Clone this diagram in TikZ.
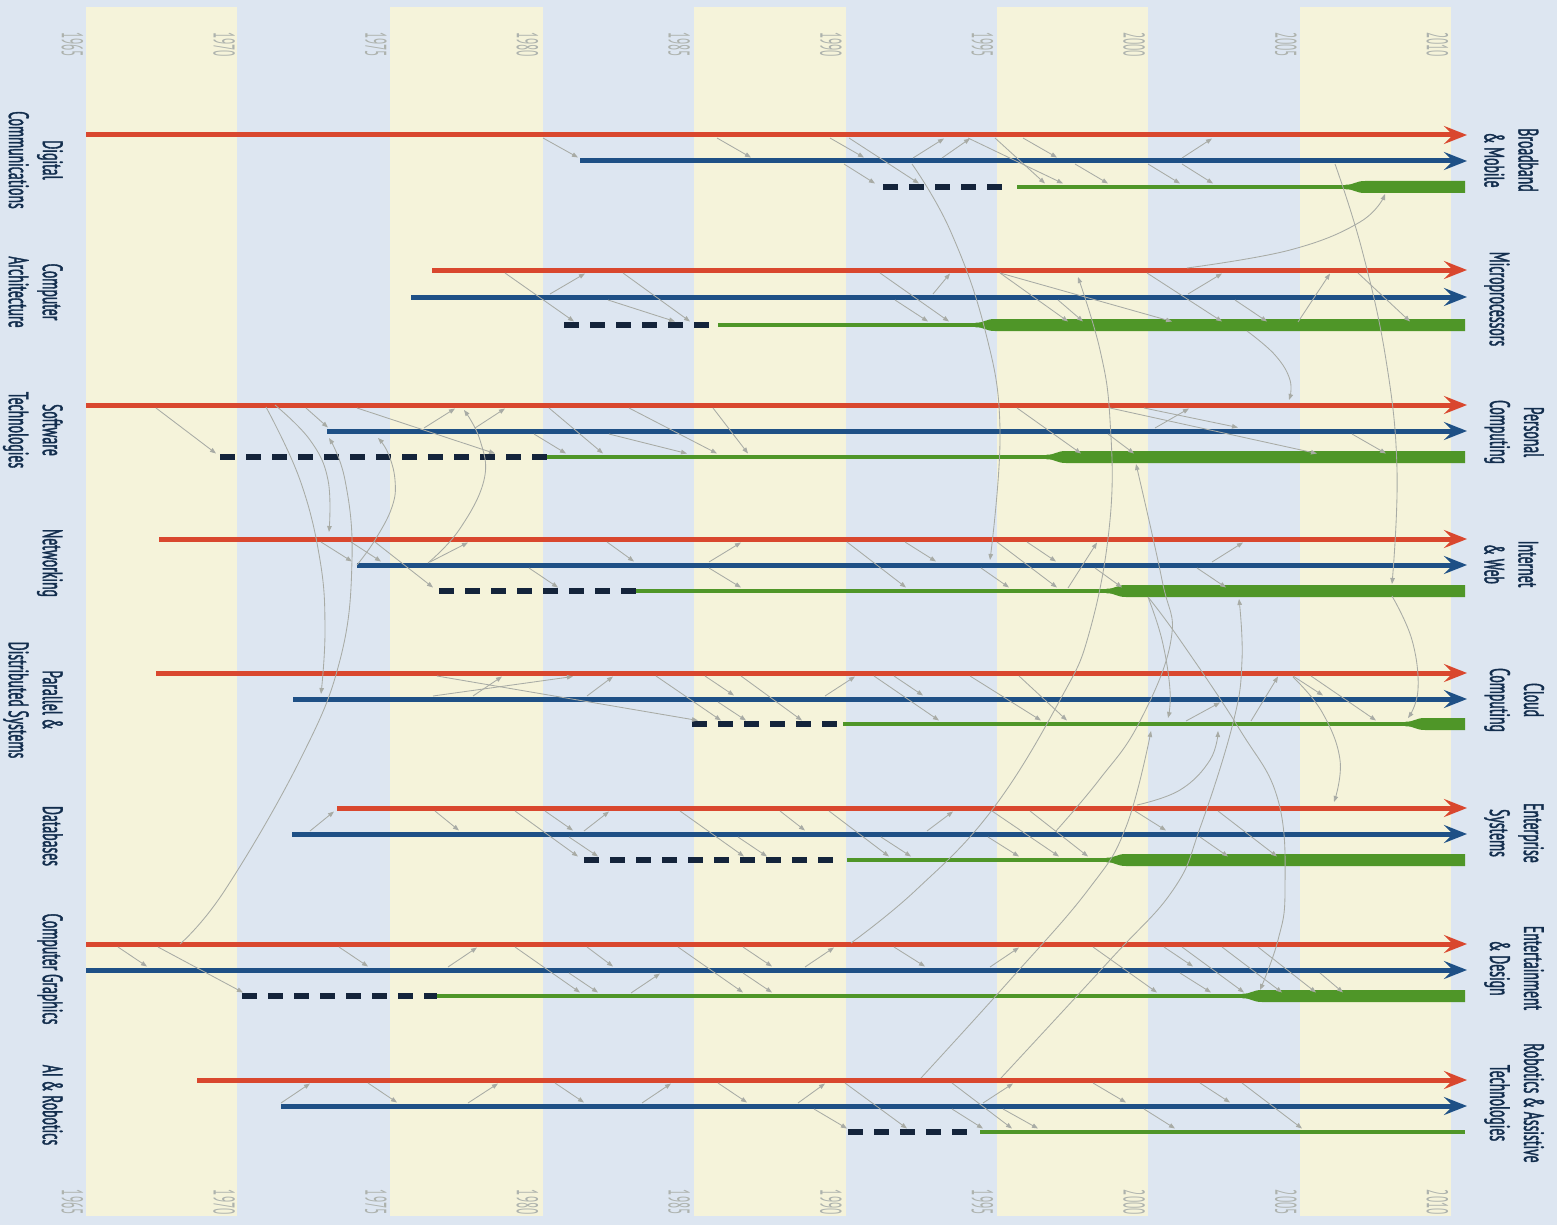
\documentclass[tikz,border=0pt]{standalone}
\usepackage{fontspec}
\newfontfamily\labfont{PT Sans}[FakeStretch=0.49,FakeBold=1.3]
\newfontfamily\yrfont{PT Sans}[FakeStretch=0.38]
\usetikzlibrary{arrows.meta}
\definecolor{bgb}{HTML}{DDE6F1}
\definecolor{crm}{HTML}{F5F3DA}
\definecolor{cred}{HTML}{D9472E}
\definecolor{cblu}{HTML}{1E5086}
\definecolor{cgrn}{HTML}{4F9628}
\definecolor{cdash}{HTML}{14243B}
\definecolor{cgray}{HTML}{A8ABA5}
\definecolor{ctext}{HTML}{132E4E}
\definecolor{cyear}{HTML}{ADB2AD}
\newcommand\setrow[3]{\def\ry{#1}\def\by{#2}\def\gy{#3}}
\newcommand\aRB[2]{\draw[ga] (#1,\ry+3) -- (#2,\by-3.5);}
\newcommand\aRG[2]{\draw[ga] (#1,\ry+3) -- (#2,\gy-3.5);}
\newcommand\aBG[2]{\draw[ga] (#1,\by+3) -- (#2,\gy-3.5);}
\newcommand\aBR[2]{\draw[ga] (#1,\by-3) -- (#2,\ry+3.5);}
\newcommand\aGB[2]{\draw[ga] (#1,\gy-3) -- (#2,\by+3.5);}
\newcommand\aGR[2]{\draw[ga] (#1,\gy-3) -- (#2,\ry+3.5);}
\newcommand\gthick[2]{\fill[cgrn] (#2,#1-2.2) .. controls (#2+10,#1-2.2) and (#2+10,#1-6) .. (#2+20,#1-6) -- (1465,#1-6) -- (1465,#1+6) -- (#2+20,#1+6) .. controls (#2+10,#1+6) and (#2+10,#1+2.2) .. (#2,#1+2.2) -- cycle;}
% #1 red y, #2 blue y, #3 green y, #4 red start, #5 blue start, #6 dash start, #7 dash end, #8 green start
\newcommand\track[8]{%
\draw[redl] (#4,#1) -- (1467,#1);
\draw[blul] (#5,#2) -- (1467,#2);
\draw[dashl] (#6,#3) -- (#7,#3);
\draw[grnl] (#8,#3) -- (1465,#3);}
\tikzset{
  ga/.style={draw=cgray, line width=0.85pt, -{Triangle[length=6pt,width=4.5pt]}},
  redl/.style={draw=cred, line width=5pt, -{Stealth[length=23pt,width=18pt,inset=9pt]}},
  blul/.style={draw=cblu, line width=5pt, -{Stealth[length=23pt,width=18pt,inset=9pt]}},
  grnl/.style={draw=cgrn, line width=4.4pt},
  dashl/.style={draw=cdash, line width=5.5pt, dash pattern=on 15pt off 11pt},
  lab/.style={rotate=-90, align=center, font=\labfont\fontsize{28}{34}\selectfont, text=ctext, inner sep=0pt},
  yr/.style={rotate=-90, font=\yrfont\fontsize{30}{30}\selectfont, text=cyear, inner sep=0pt}
}
\begin{document}
\begin{tikzpicture}[x=1pt,y=-1pt]
\useasboundingbox (0,0) rectangle (1557,1225);
\fill[bgb] (0,0) rectangle (1557,1225);
\foreach \a/\b in {86/237,390/543,694/846,997/1148,1300/1451}{\fill[crm] (\a,7) rectangle (\b,1216);}
\foreach \yy in {1965,1970,...,2010}{
  \pgfmathsetmacro\xx{86+(\yy-1965)*30.333-2.5}
  \node[yr, anchor=north west] (t\yy) at (\xx,32) {\yy};
  \node[yr, anchor=north east] (b\yy) at (\xx,1215) {\yy};
}
% tracks
\track{135}{161}{187}{86}{580}{883}{1005}{1017}
\gthick{187}{1345}
\track{270}{297}{325}{432}{411}{564}{710}{718}
\gthick{325}{975}
\track{405}{431}{457}{86}{327}{220}{547}{547}
\gthick{457}{1046}
\track{539}{565}{591}{159}{357}{439}{636}{636}
\gthick{591}{1106}
\track{673}{699}{724}{156}{293}{692}{837}{843}
\gthick{724}{1405}
\track{808}{834}{860}{337}{292}{584}{834}{847}
\gthick{860}{1106}
\track{944}{970}{996}{86}{86}{242}{437}{437}
\gthick{996}{1242}
\track{1080}{1106}{1132}{197}{281}{848}{968}{980}
% labels left
\node[lab, anchor=north] (lDC) at (63,160) {Digital\\Communications};
\node[lab, anchor=north] (lCA) at (63,292) {Computer\\Architecture};
\node[lab, anchor=north] (lST) at (63,430) {Software\\Technologies};
\node[lab, anchor=north] (lNW) at (63,563) {Networking};
\node[lab, anchor=north] (lPD) at (63,700) {Parallel \&\\Distributed Systems};
\node[lab, anchor=north] (lDB) at (63,836) {Databases};
\node[lab, anchor=north] (lCG) at (63,969) {Computer Graphics};
\node[lab, anchor=north] (lAI) at (63,1105) {AI \& Robotics};
% labels right
\node[lab, anchor=south] (rBM) at (1484,160) {Broadband\\\& Mobile};
\node[lab, anchor=south] (rMP) at (1484,299) {Microprocessors};
\node[lab, anchor=south] (rPC) at (1484,432) {Personal\\Computing};
\node[lab, anchor=south] (rIW) at (1484,564) {Internet\\\& Web};
\node[lab, anchor=south] (rCC) at (1484,700) {Cloud\\Computing};
\node[lab, anchor=south] (rES) at (1484,833) {Enterprise\\Systems};
\node[lab, anchor=south] (rED) at (1484,968) {Entertainment\\\& Design};
\node[lab, anchor=south] (rRA) at (1484,1103) {Robotics \& Assistive\\Technologies};
% row 1
\setrow{135}{161}{187}
\aRB{543}{578}\aRB{717}{751}\aRB{830}{864}\aRB{1023}{1057}
\aRG{849}{919}\aRG{995}{1045}\aRG{968}{1063}
\aBG{844}{875}\aBG{1075}{1108}\aBG{1148}{1180}\aBG{1182}{1213}
\aBR{913}{944}\aBR{942}{970}\aBR{1182}{1212}
% row 2
\setrow{270}{297}{325}
\aRG{505}{574}\aRG{623}{690}\aRG{880}{949}\aRG{1000}{1068}\aRG{1000}{1172}\aRG{1147}{1222}\aRG{1358}{1410}
\aBR{550}{585}\aBR{933}{950}\aBR{1188}{1222}
\aBG{608}{675}\aBG{895}{928}\aBG{1058}{1083}\aBG{1235}{1267}
\aGR{1298}{1330}
% row 3
\setrow{405}{431}{457}
\aRG{156}{216}\aRG{357}{495}\aRG{549}{603}\aRG{629}{717}\aRG{713}{748}\aRG{1017}{1081}\aRG{1110}{1317}
\aRB{306}{328}\aRB{1144}{1238}
\aBR{424}{455}\aBR{475}{505}\aBR{1155}{1189}
\aBG{534}{566}\aBG{609}{687}\aBG{1108}{1134}\aBG{1352}{1386}
% row 4
\setrow{539}{565}{591}
\aRB{321}{352}\aRB{351}{381}\aRB{607}{634}\aRB{905}{936}\aRB{1027}{1056}
\aRG{375}{433}\aRG{847}{906}\aRG{997}{1057}
\aBR{430}{468}\aBR{709}{741}\aBR{1212}{1243}
\aBG{529}{558}\aBG{709}{741}\aBG{981}{1009}\aBG{1095}{1122}\aBG{1197}{1226}
\aGR{1068}{1097}
% row 5
\setrow{673}{699}{724}
\aBR{433}{573}\aBR{473}{502}\aBR{587}{613}\aBR{825}{855}
\aRG{437}{698}\aRG{656}{721}\aRG{741}{802}\aRG{874}{939}\aRG{970}{1041}\aRG{1019}{1067}\aRG{1311}{1376}
\aRB{705}{734}\aRB{894}{923}\aRB{1293}{1323}
\aBG{718}{746}
\aGB{1186}{1220}
\aGR{1251}{1278}
% row 6
\setrow{808}{834}{860}
\aBR{310}{334}\aBR{584}{609}\aBR{927}{953}
\aRB{435}{459}\aRB{545}{573}\aRB{780}{805}\aRB{1135}{1166}
\aRG{515}{578}\aRG{680}{744}\aRG{829}{889}\aRG{992}{1059}\aRG{1030}{1088}\aRG{1218}{1277}
\aBG{569}{598}\aBG{738}{767}\aBG{881}{911}\aBG{988}{1019}\aBG{1200}{1228}
% row 7
\setrow{944}{970}{996}
\aRB{118}{147}\aRB{339}{368}\aRB{587}{613}\aRB{743}{772}\aRB{894}{925}\aRB{1164}{1193}
\aRG{158}{243}\aRG{515}{580}\aRG{678}{743}\aRG{1093}{1157}\aRG{1182}{1244}\aRG{1222}{1282}\aRG{1258}{1316}
\aBR{448}{477}\aBR{805}{834}\aBR{990}{1019}
\aBG{569}{598}\aBG{743}{772}\aBG{1180}{1211}\aBG{1320}{1343}
\aGB{631}{660}
% row 8
\setrow{1080}{1106}{1132}
\aBR{281}{310}\aBR{468}{498}\aBR{642}{671}\aBR{798}{825}\aBR{983}{1013}
\aRB{368}{397}\aRB{555}{584}\aRB{718}{747}\aRB{1093}{1126}\aRB{1200}{1230}
\aBG{814}{847}\aBG{952}{983}\aBG{1003}{1038}\aBG{1144}{1175}
\aRG{845}{907}\aRG{952}{1012}\aRG{1242}{1302}
% long curves
\draw[ga] plot[smooth, tension=0.7] coordinates {(912,164) (950,230) (985,330) (1000,430) (990,560)};
\draw[ga] plot[smooth, tension=0.7] coordinates {(1335,164) (1362,250) (1386,360) (1397,470) (1392,584)};
\draw[ga] plot[smooth, tension=0.7] coordinates {(1392,596) (1412,640) (1418,690) (1408,718)};
\draw[ga] plot[smooth, tension=0.7] coordinates {(1187,268) (1290,250) (1360,222) (1385,194)};
\draw[ga] plot[smooth, tension=0.7] coordinates {(1247,331) (1275,355) (1290,380) (1289,400)};
\draw[ga] plot[smooth, tension=0.7] coordinates {(851,943) (916,890) (992,810) (1060,700) (1090,630) (1110,520) (1110,420) (1100,350) (1078,277)};
\draw[ga] plot[smooth, tension=0.7] coordinates {(1148,597) (1162,640) (1170,690) (1168,718)};
\draw[ga] plot[smooth, tension=0.7] coordinates {(1148,597) (1180,640) (1240,730) (1278,800) (1285,890) (1278,940) (1260,990)};
\draw[ga] plot[smooth, tension=0.7] coordinates {(1056,831) (1099,780) (1139,723) (1171,640) (1162,580) (1136,464)};
\draw[ga] plot[smooth, tension=0.7] coordinates {(1137,805) (1180,790) (1210,760) (1218,731)};
\draw[ga] plot[smooth, tension=0.7] coordinates {(921,1078) (1010,980) (1088,890) (1126,827) (1151,731)};
\draw[ga] plot[smooth, tension=0.7] coordinates {(1001,1078) (1110,960) (1173,890) (1200,828) (1233,723) (1242,660) (1239,599)};
\draw[ga] plot[smooth, tension=0.7] coordinates {(1293,677) (1322,712) (1340,760) (1334,802)};
\draw[ga] plot[smooth, tension=0.7] coordinates {(180,944) (225,890) (300,760) (340,660) (352,560) (345,480) (329,438)};
\draw[ga] plot[smooth, tension=0.7] coordinates {(266,407) (300,480) (320,560) (325,630) (321,694)};
\draw[ga] plot[smooth, tension=0.7] coordinates {(275,405) (310,440) (328,480) (329,532)};
\draw[ga] plot[smooth, tension=0.7] coordinates {(357,565) (375,540) (392,507) (395,480) (388,453) (378,438)};
\draw[ga] plot[smooth, tension=0.7] coordinates {(428,563) (459,530) (484,480) (480,440) (464,410)};
\end{tikzpicture}
\end{document}
